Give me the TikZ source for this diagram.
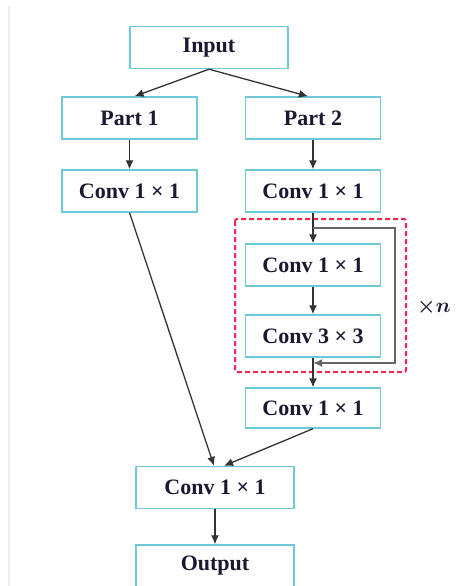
\documentclass[tikz,border=0pt]{standalone}
\usepackage{fontspec}
\setmainfont{Liberation Serif}
\usepackage{tikz}
\usetikzlibrary{arrows.meta}
\definecolor{boxline}{RGB}{110,200,215}
\definecolor{repred}{RGB}{238,40,80}
\definecolor{txt}{RGB}{25,25,50}
\begin{document}
\begin{tikzpicture}[
   x=1pt,y=-1pt,
   font=\fontsize{22}{24}\selectfont\bfseries,
   block/.style={draw=boxline,line width=1.4pt,fill=white,text=txt,minimum height=42pt,inner sep=0pt},
   side/.style={block,minimum width=135pt},
   mid/.style={block,minimum width=158pt},
   to/.style={-{Latex[length=9pt,width=8pt]},line width=1.3pt,draw=black!80},
   skip/.style={-{Latex[length=9pt,width=8pt]},line width=1.8pt,draw=black!60},
   repbox/.style={draw=repred,line width=2pt,dash pattern=on 5pt off 3pt,rounded corners=2pt}]
\useasboundingbox (0,0) rectangle (455,586);
\draw[black!7,line width=1.5pt] (9,6) -- (9,586);
\node[mid] (In) at (209,47.5) {Input};
\node[side] (P1) at (129.5,118) {Part 1};
\node[side] (P2) at (313,118) {Part 2};
\node[side] (CA) at (129.5,191) {Conv 1 × 1};
\node[side] (CB) at (313,191) {Conv 1 × 1};
\node[side] (CC) at (313,265) {Conv 1 × 1};
\node[side] (CD) at (313,336) {Conv 3 × 3};
\node[side,minimum height=40pt] (CE) at (313,408) {Conv 1 × 1};
\node[mid] (CF) at (215,487.5) {Conv 1 × 1};
\node[mid] (Out) at (215,566) {Output};
\draw[repbox] (235,219) rectangle (406,372);
\node[anchor=west,inner sep=0pt,text=txt,font=\fontsize{21}{24}\selectfont\boldmath] (N) at (417,307) {$\times n$};
\coordinate (split) at (313,228);
\coordinate (join) at (313,363);
\draw[to] (In.south) -- ([xshift=5pt]P1.north);
\draw[to] (In.south) -- ([xshift=-5pt]P2.north);
\draw[to] (P1) -- (CA);
\draw[to] (P2) -- (CB);
\draw[to] (CB) -- (CC);
\draw[to] (CC) -- (CD);
\draw[to] (CD) -- (CE);
\draw[skip] (split) -- ++(82,0) |- (join);
\draw[to] (CA.south) -- ([xshift=-1pt]CF.north);
\draw[to] (CE.south) -- ([xshift=9pt]CF.north);
\draw[to] (CF) -- (Out);
\end{tikzpicture}
\end{document}
